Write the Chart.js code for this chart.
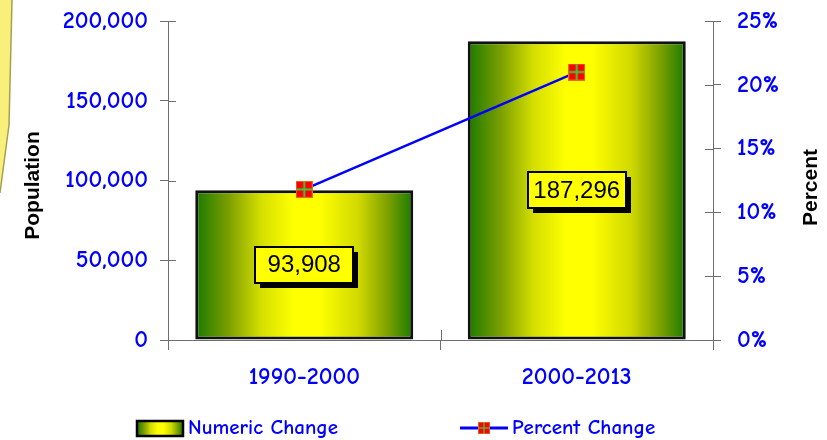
<!DOCTYPE html>
<html><head><meta charset="utf-8">
<script src="https://cdn.jsdelivr.net/npm/chart.js@4.4.1/dist/chart.umd.min.js"></script>
<style>html,body{margin:0;padding:0;background:#fff;}#wrap{width:827px;height:440px;position:relative}</style>
</head><body><div id="wrap"><canvas id="c" width="827" height="440"></canvas></div>
<script>
const categories = ['1990-2000', '2000-2013'];
const numericChange = [93908, 187296];
const percentChange = [11.8, 21.0];
const populationTicks = [0, 50000, 100000, 150000, 200000];
const percentTicks = [0, 5, 10, 15, 20, 25];
const seriesNames = ['Numeric Change', 'Percent Change'];
const yTitle = 'Population';
const y2Title = 'Percent';

const FONT = '"Comic Sans MS", "Comic Neue", "DejaVu Sans", sans-serif';
const WEIGHT = 'bold';
const BLUE = '#0000ff', AXIS = '#6e6e6e';
const GREEN = '#1a7a00', YEL = '#ffff00';

function makeMarker() {
  const c = document.createElement('canvas'); c.width = 17; c.height = 17;
  const g = c.getContext('2d');
  g.fillStyle = '#ff0000'; g.fillRect(0, 0, 17, 17);
  g.strokeStyle = '#e07020'; g.lineWidth = 1; g.strokeRect(0.5, 0.5, 16, 16);
  g.strokeStyle = '#3ccc3c'; g.lineWidth = 2;
  g.beginPath(); g.moveTo(8.5, 1); g.lineTo(8.5, 16); g.moveTo(1, 8.5); g.lineTo(16, 8.5); g.stroke();
  return c;
}
const marker = makeMarker();

function barGradient(g, x0, x1) {
  const gr = g.createLinearGradient(x0, 0, x1, 0);
  gr.addColorStop(0, GREEN);
  gr.addColorStop(0.15, '#7a9e00');
  gr.addColorStop(0.3, '#d4de00');
  gr.addColorStop(0.45, YEL);
  gr.addColorStop(0.57, YEL);
  gr.addColorStop(0.75, '#d0d800');
  gr.addColorStop(0.88, '#7ea200');
  gr.addColorStop(1, GREEN);
  return gr;
}

const decoPlugin = {
  id: 'deco',
  beforeDraw(chart) {
    const g = chart.ctx;
    g.save();
    g.fillStyle = '#f8f07a'; g.strokeStyle = '#a8a050'; g.lineWidth = 1.5;
    g.beginPath(); g.moveTo(0, 0); g.lineTo(12, 0); g.lineTo(9, 125); g.lineTo(0, 193); g.closePath();
    g.fill();
    g.beginPath(); g.moveTo(12, 0); g.lineTo(9, 125); g.lineTo(0, 193); g.stroke();
    g.restore();
  },
  afterDraw(chart) {
    const g = chart.ctx;
    const ys = chart.scales.y, y2 = chart.scales.y2, xs = chart.scales.x;
    g.save();
    // inner ticks
    g.strokeStyle = AXIS; g.lineWidth = 1;
    g.beginPath();
    populationTicks.forEach(v => { const p = Math.round(ys.getPixelForValue(v)) + 0.5; g.moveTo(ys.right, p); g.lineTo(ys.right + 8, p); });
    percentTicks.forEach(v => { const p = Math.round(y2.getPixelForValue(v)) + 0.5; g.moveTo(y2.left - 8, p); g.lineTo(y2.left, p); });
    for (let i = 0; i <= categories.length; i++) {
      const p = Math.round(xs.left + i * xs.width / categories.length) + 0.5;
      g.moveTo(p, xs.top - 10); g.lineTo(p, xs.top);
    }
    g.stroke();
    // titles
    g.fillStyle = '#000'; g.font = 'bold 21px "Liberation Sans", Arial, sans-serif';
    g.textAlign = 'center'; g.textBaseline = 'middle';
    g.save(); g.translate(33, (ys.top + ys.bottom) / 2 + 5); g.rotate(-Math.PI / 2); g.fillText(yTitle, 0, 0); g.restore();
    g.save(); g.translate(811, (ys.top + ys.bottom) / 2 + 7); g.rotate(-Math.PI / 2); g.fillText(y2Title, 0, 0); g.restore();
    // legend
    const ly = 428;
    g.fillStyle = barGradient(g, 137, 183);
    g.fillRect(137, ly - 7, 46, 15);
    g.strokeStyle = '#000'; g.lineWidth = 2.5; g.strokeRect(137, ly - 7, 46, 15);
    g.strokeStyle = BLUE; g.lineWidth = 3;
    g.beginPath(); g.moveTo(460, ly); g.lineTo(508, ly); g.stroke();
    g.drawImage(marker, 484 - 6, ly - 6, 12, 12);
    g.fillStyle = BLUE; g.font = WEIGHT + ' 21px ' + FONT; g.textAlign = 'left';
    g.fillText(seriesNames[0], 188, ly);
    g.fillText(seriesNames[1], 512, ly);
    g.restore();
  },
  afterDatasetsDraw(chart) {
    const g = chart.ctx;
    const meta = chart.getDatasetMeta(0);
    g.save();
    g.font = '24px "Liberation Sans", Arial, sans-serif';
    g.textAlign = 'center'; g.textBaseline = 'middle';
    meta.data.forEach((bar, i) => {
      const cx = bar.x, cy = (bar.y + bar.base) / 2;
      const txt = numericChange[i].toLocaleString('en-US');
      const w = 98, h = 36;
      const x0 = Math.round(cx - w / 2), y0 = Math.round(cy - h / 2);
      g.fillStyle = '#000'; g.fillRect(x0 + 5, y0 + 5, w, h);
      g.fillStyle = YEL; g.fillRect(x0, y0, w, h);
      g.strokeStyle = '#000'; g.lineWidth = 2; g.strokeRect(x0, y0, w, h);
      g.fillStyle = '#000'; g.fillText(txt, cx, cy + 1);
    });
    g.restore();
  }
};

const tickFont = { size: 24, family: FONT, weight: WEIGHT };

new Chart(document.getElementById('c'), {
  data: {
    labels: categories,
    datasets: [
      {
        type: 'bar', label: seriesNames[0], data: numericChange, yAxisID: 'y', order: 2,
        backgroundColor: (ctx) => {
          const chart = ctx.chart, xs = chart.scales.x;
          if (!xs || !chart.chartArea || ctx.dataIndex === undefined) return YEL;
          const cx = xs.getPixelForValue(ctx.dataIndex);
          const w = xs.width / categories.length * 0.8;
          return barGradient(chart.ctx, cx - w / 2, cx + w / 2);
        },
        borderColor: '#111', borderWidth: 3, borderSkipped: false,
        barPercentage: 0.8, categoryPercentage: 1.0
      },
      {
        type: 'line', label: seriesNames[1], data: percentChange, yAxisID: 'y2', order: 1,
        borderColor: BLUE, borderWidth: 2.5, pointStyle: marker, pointRadius: 8, fill: false, tension: 0
      }
    ]
  },
  options: {
    responsive: false, animation: false, devicePixelRatio: 1,
    layout: { padding: { left: 0, right: 0, top: 21, bottom: 21 } },
    plugins: { legend: { display: false }, tooltip: { enabled: false } },
    scales: {
      x: {
        afterFit(s) { s.height = 79; },
        grid: { display: true, drawOnChartArea: false, color: AXIS, tickLength: 10, offset: true },
        border: { color: AXIS, width: 1 },
        ticks: { color: BLUE, font: tickFont, padding: 13 }
      },
      y: {
        position: 'left', min: 0, max: 200000,
        afterFit(s) { s.width = 168; s.paddingTop = 0; s.paddingBottom = 0; },
        afterBuildTicks(s) { s.ticks = populationTicks.map(v => ({ value: v })); },
        grid: { display: true, drawOnChartArea: false, color: AXIS, tickLength: 8 },
        border: { color: AXIS, width: 1 },
        ticks: { color: BLUE, font: tickFont, padding: 12,
          callback: v => v.toLocaleString('en-US') }
      },
      y2: {
        position: 'right', min: 0, max: 25,
        afterFit(s) { s.width = 114; s.paddingTop = 0; s.paddingBottom = 0; },
        afterBuildTicks(s) { s.ticks = percentTicks.map(v => ({ value: v })); },
        grid: { display: true, drawOnChartArea: false, color: AXIS, tickLength: 8 },
        border: { color: AXIS, width: 1 },
        ticks: { color: BLUE, font: tickFont, padding: 16,
          callback: v => v + '%' }
      }
    }
  },
  plugins: [decoPlugin]
});
</script></body></html>
